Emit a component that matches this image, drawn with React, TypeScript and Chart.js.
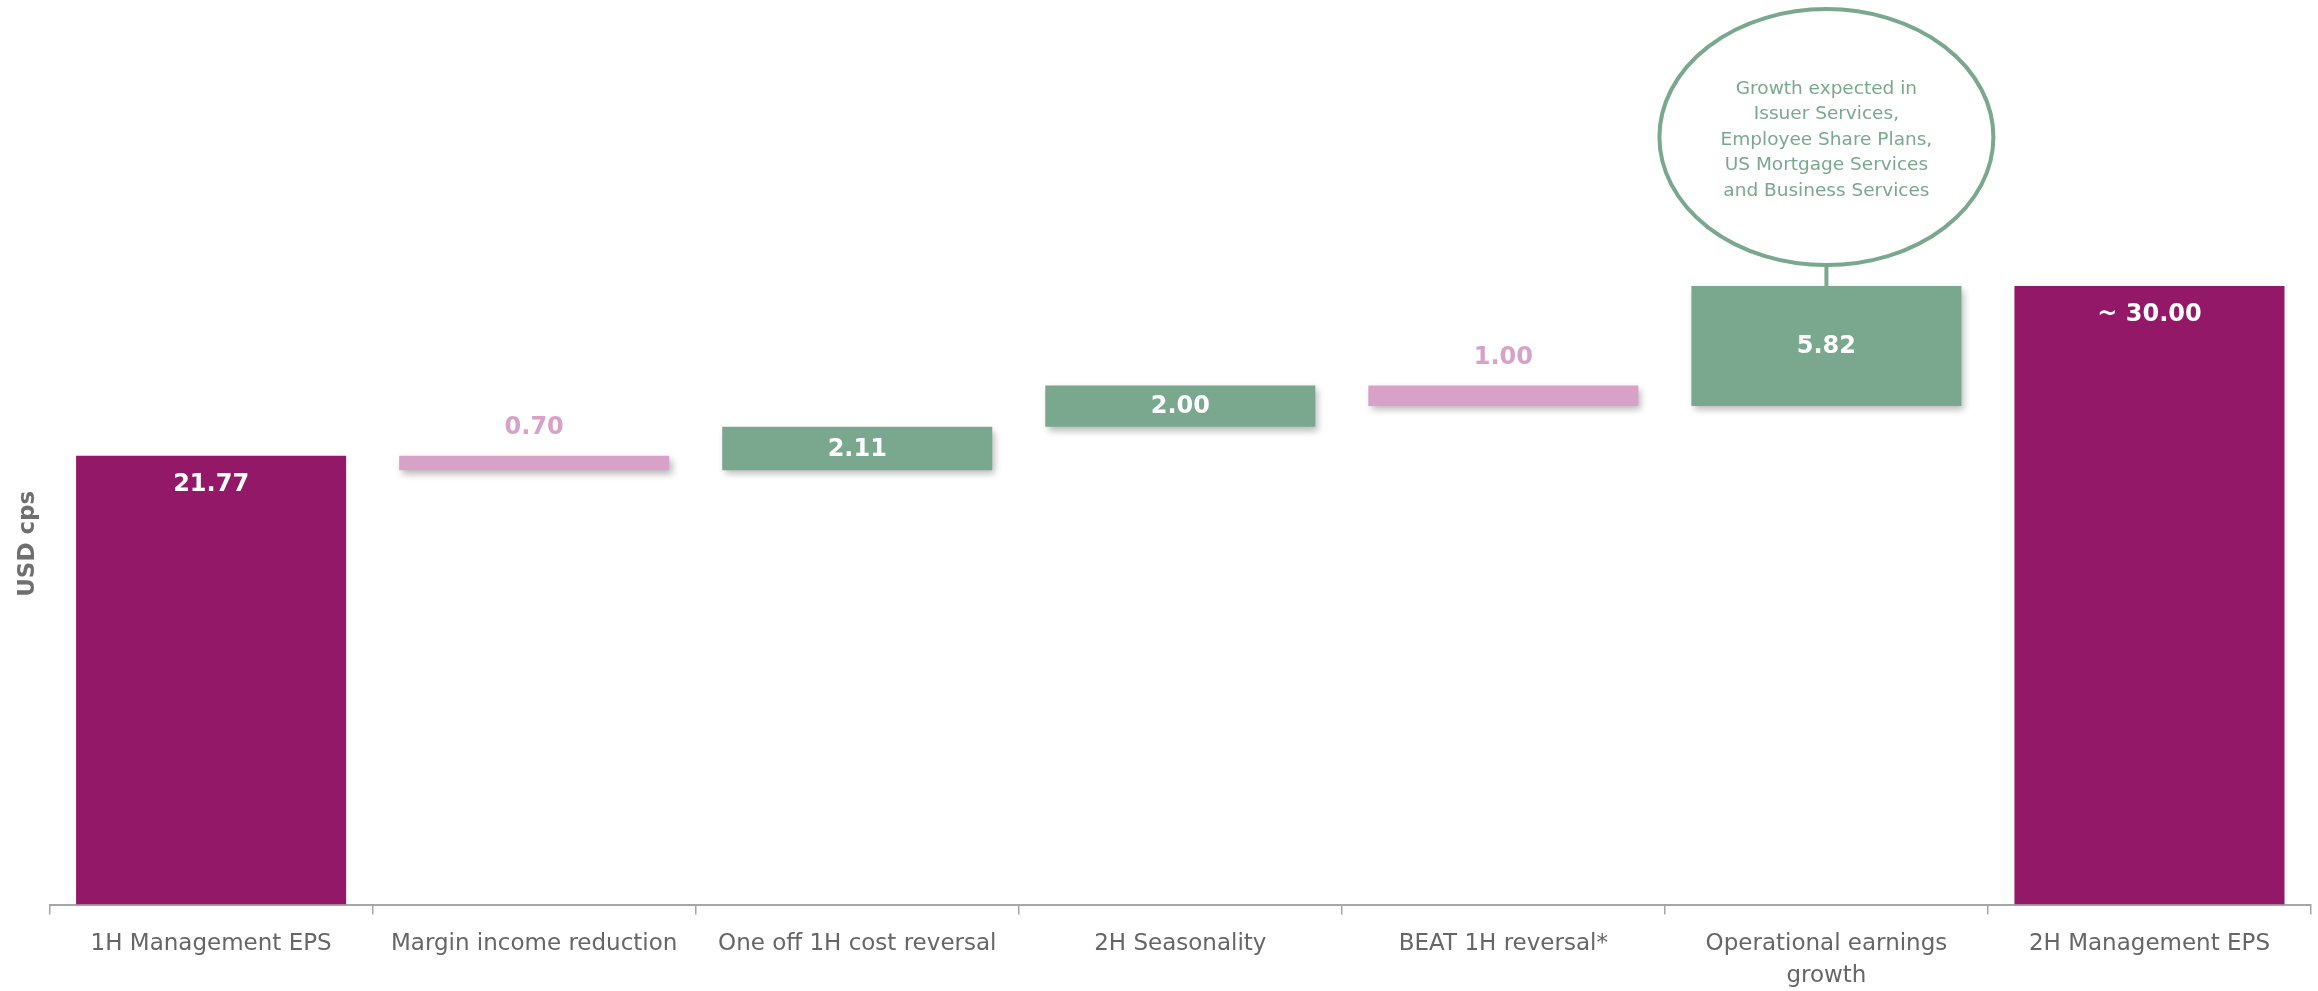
import React, { useEffect, useRef } from "react";
import { Chart, registerables } from "chart.js";

Chart.register(...registerables);

const categories: (string | string[])[] = [
  "1H Management EPS",
  "Margin income reduction",
  "One off 1H cost reversal",
  "2H Seasonality",
  "BEAT 1H reversal*",
  ["Operational earnings", "growth"],
  "2H Management EPS",
];
const startTotal = 21.77;
const changes = [-0.7, 2.11, 2.0, -1.0, 5.82];
const endTotal = 30.0;
const valueLabels = ["21.77", "0.70", "2.11", "2.00", "1.00", "5.82", "~ 30.00"];
const calloutLines = [
  "Growth expected in",
  "Issuer Services,",
  "Employee Share Plans,",
  "US Mortgage Services",
  "and Business Services",
];
const calloutIndex = 5;

const PURPLE = "#941868";
const GREEN = "#79a88e";
const PINK = "#d8a2c8";
const AXIS = "#a6a6a6";

export default function App() {
  const ref = useRef<HTMLCanvasElement | null>(null);
  useEffect(() => {
    document.body.style.margin = "0";
    const totals: (number | null)[] = categories.map(() => null);
    totals[0] = startTotal;
    totals[categories.length - 1] = endTotal;
    const floating: ([number, number] | null)[] = categories.map(() => null);
    let cum = startTotal;
    changes.forEach((c, i) => {
      floating[i + 1] = [cum, cum + c];
      cum += c;
    });
    const changeColors = categories.map((_, i) =>
      i >= 1 && i <= changes.length && changes[i - 1] < 0 ? PINK : GREEN
    );

    const shadowPlugin = {
      id: "shadow",
      beforeDatasetDraw(chart: any, args: any) {
        if (args.index === 1) {
          const ctx = chart.ctx;
          ctx.save();
          ctx.shadowColor = "rgba(0,0,0,0.28)";
          ctx.shadowBlur = 7;
          ctx.shadowOffsetX = 3;
          ctx.shadowOffsetY = 4;
        }
      },
      afterDatasetDraw(chart: any, args: any) {
        if (args.index === 1) chart.ctx.restore();
      },
    };

    const labelPlugin = {
      id: "labels",
      afterDatasetsDraw(chart: any) {
        const ctx = chart.ctx;
        ctx.save();
        ctx.textAlign = "center";
        ctx.textBaseline = "middle";
        ctx.font = "bold 24px 'DejaVu Sans'";
        const m0 = chart.getDatasetMeta(0);
        m0.data.forEach((bar: any, i: number) => {
          if (totals[i] == null) return;
          const top = Math.min(bar.y, bar.base);
          ctx.fillStyle = "#ffffff";
          ctx.fillText(valueLabels[i], bar.x, top + 29);
        });
        const m1 = chart.getDatasetMeta(1);
        m1.data.forEach((bar: any, i: number) => {
          if (floating[i] == null) return;
          const c = changes[i - 1];
          const top = Math.min(bar.y, bar.base);
          if (c < 0) {
            ctx.fillStyle = PINK;
            ctx.fillText(valueLabels[i], bar.x, top - 28);
          } else {
            ctx.fillStyle = "#ffffff";
            ctx.fillText(valueLabels[i], bar.x, (bar.y + bar.base) / 2 + 1);
          }
        });
        const cb = m1.data[calloutIndex];
        if (cb) {
          const top = Math.min(cb.y, cb.base);
          const rx = 167;
          const ry = 128;
          const gap = 21;
          const cy = top - gap - ry;
          ctx.strokeStyle = GREEN;
          ctx.lineWidth = 4;
          ctx.beginPath();
          ctx.moveTo(cb.x, top - gap);
          ctx.lineTo(cb.x, top);
          ctx.stroke();
          ctx.beginPath();
          ctx.ellipse(cb.x, cy, rx, ry, 0, 0, Math.PI * 2);
          ctx.fillStyle = "#ffffff";
          ctx.fill();
          ctx.stroke();
          ctx.fillStyle = GREEN;
          ctx.font = "18.5px 'DejaVu Sans'";
          calloutLines.forEach((line, k) => {
            ctx.fillText(line, cb.x, cy + 3 + (k - (calloutLines.length - 1) / 2) * 25.5);
          });
        }
        ctx.restore();
      },
    };

    const chart = new Chart(ref.current as HTMLCanvasElement, {
      type: "bar",
      data: {
        labels: categories,
        datasets: [
          {
            label: "Totals",
            data: totals as any,
            backgroundColor: PURPLE,
            grouped: false,
            borderWidth: 0,
          } as any,
          {
            label: "Changes",
            data: floating as any,
            backgroundColor: changeColors,
            grouped: false,
            borderWidth: 0,
          } as any,
        ],
      },
      options: {
        animation: false,
        responsive: true,
        maintainAspectRatio: false,
        layout: { padding: { left: 14, right: 7, top: 183, bottom: -14 } },
        datasets: { bar: { categoryPercentage: 1, barPercentage: 0.836 } },
        plugins: {
          legend: { display: false },
          tooltip: { enabled: false },
        },
        scales: {
          x: {
            offset: true,
            grid: {
              display: true,
              drawOnChartArea: false,
              drawTicks: true,
              tickLength: 10,
              color: AXIS,
              lineWidth: 1.5,
              offset: true,
            },
            border: { display: true, color: AXIS, width: 2 },
            ticks: {
              color: "#666666",
              padding: 13,
              maxRotation: 0,
              autoSkip: false,
              font: { family: "'DejaVu Sans'", size: 23, lineHeight: 1.4 },
            },
          },
          y: {
            min: 0,
            max: 35,
            grid: { display: false, drawTicks: false },
            border: { display: false },
            ticks: { display: false },
            title: {
              display: true,
              text: "USD cps",
              color: "#6f6f6f",
              padding: { top: 0, bottom: 8 },
              font: { family: "'DejaVu Sans'", size: 23, weight: "bold", lineHeight: 1.2 },
            },
          },
        },
      },
      plugins: [shadowPlugin, labelPlugin],
    });
    return () => chart.destroy();
  }, []);

  return (
    <div style={{ width: 2318, height: 991, position: "relative" }}>
      <canvas ref={ref} />
    </div>
  );
}
